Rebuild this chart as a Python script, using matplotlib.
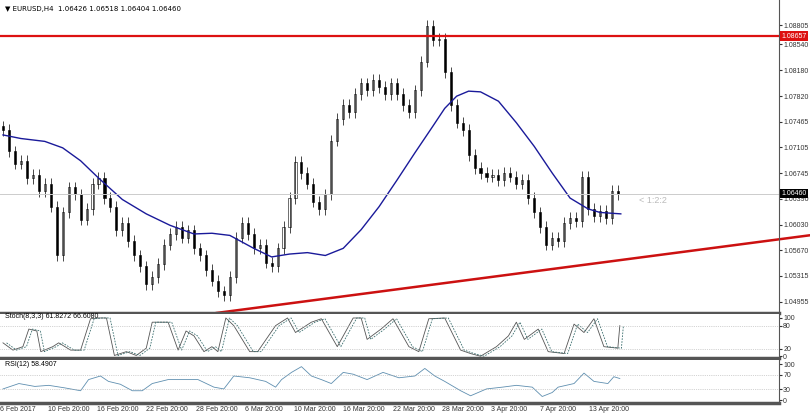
import numpy as np
import matplotlib.pyplot as plt

plt.rcParams['font.family'] = ['Liberation Sans', 'DejaVu Sans']

# closes, one candle per slot (each slot ~ 6 px in the reference)
closes = [1.0735, 1.0705, 1.0688, 1.0692, 1.0668, 1.0672, 1.0650, 1.0660, 1.0628, 1.0560,
          1.0620, 1.0655, 1.0645, 1.0610, 1.0625, 1.0660, 1.0668, 1.0640, 1.0628, 1.0595,
          1.0605, 1.0580, 1.0560, 1.0545, 1.0520, 1.0530, 1.0548, 1.0575, 1.0590, 1.0600,
          1.0585, 1.0595, 1.0570, 1.0560, 1.0540, 1.0525, 1.0510, 1.0505, 1.0530, 1.0585,
          1.0605, 1.0590, 1.0570, 1.0575, 1.0550, 1.0545, 1.0570, 1.0600, 1.0640, 1.0690,
          1.0675, 1.0660, 1.0635, 1.0625, 1.0645, 1.0720, 1.0750, 1.0770, 1.0760, 1.0785,
          1.0800, 1.0790, 1.0805, 1.0795, 1.0785, 1.0800, 1.0785, 1.0770, 1.0760, 1.0790,
          1.0830, 1.0880, 1.0860, 1.0862, 1.0815, 1.0770, 1.0745, 1.0735, 1.0700, 1.0682,
          1.0675, 1.0670, 1.0672, 1.0665, 1.0675, 1.0670, 1.0660, 1.0665, 1.0640, 1.0620,
          1.0600, 1.0575, 1.0585, 1.0580, 1.0605, 1.0612, 1.0608, 1.0670, 1.0625, 1.0615,
          1.0622, 1.0612, 1.0650, 1.0646]

# moving average (x in candle slots)
ma_x = [0, 3, 7, 10, 13, 16, 20, 24, 28, 32, 35, 38, 42, 45, 48, 51, 54, 57, 60, 63, 66,
        69, 72, 74, 76, 78, 80, 83, 86, 89, 92, 95, 98, 100, 103.5]
ma_y = [1.0728, 1.0723, 1.0719, 1.0710, 1.0692, 1.0668, 1.0638, 1.0618, 1.0602, 1.0590,
        1.0591, 1.0588, 1.0570, 1.0558, 1.0562, 1.0564, 1.0560, 1.0570, 1.0596, 1.0628,
        1.0665, 1.0703, 1.0740, 1.0765, 1.0782, 1.0789, 1.0788, 1.0775, 1.0745, 1.0712,
        1.0675, 1.0640, 1.0625, 1.0620, 1.0618]

stoch_x = [0, 5, 10, 13, 17, 19, 25, 28, 34, 39, 44, 48, 52, 56, 62, 67, 72, 75, 83, 88, 92,
           96, 101, 105, 108, 112, 116, 124, 128, 137, 143, 147, 155, 160, 168, 176, 180,
           183, 190, 196, 204, 209, 214, 222, 230, 235, 240, 248, 254, 258, 262, 269, 274,
           282, 287, 292, 297, 302, 309, 310]
stoch_v = [35, 16, 25, 71, 66, 12, 25, 35, 16, 16, 98, 107, 103, 2, 12, 2, 21, 89, 89, 16,
           66, 53, 12, 25, 12, 103, 80, 12, 12, 80, 107, 62, 89, 98, 25, 107, 116, 44, 71,
           98, 25, 12, 98, 103, 16, 7, -6, 25, 53, 89, 44, 71, 12, 7, 84, 62, 98, 25, 21,
           80]

rsi_x = [0, 8, 16, 23, 31, 39, 43, 49, 53, 59, 65, 70, 75, 83, 90, 98, 106, 111, 116, 124,
         132, 137, 140, 145, 150, 155, 160, 165, 171, 176, 183, 191, 199, 207, 212, 217,
         222, 230, 235, 243, 251, 258, 266, 271, 276, 279, 287, 292, 297, 304, 307, 310]
rsi_v = [31, 46, 38, 41, 34, 26, 57, 67, 52, 44, 26, 26, 46, 57, 57, 57, 36, 31, 67, 62,
         52, 36, 57, 77, 93, 67, 57, 46, 77, 72, 57, 77, 62, 67, 88, 67, 52, 26, 12, 31,
         36, 41, 36, 10, 21, 36, 46, 75, 52, 46, 65, 60]

price_ticks = [1.08805, 1.08540, 1.08180, 1.07820, 1.07465, 1.07105, 1.06745, 1.06390,
               1.06030, 1.05670, 1.05315, 1.04955]
time_labels = ["6 Feb 2017", "10 Feb 20:00", "16 Feb 20:00", "22 Feb 20:00", "28 Feb 20:00",
               "6 Mar 20:00", "10 Mar 20:00", "16 Mar 20:00", "22 Mar 20:00", "28 Mar 20:00",
               "3 Apr 20:00", "7 Apr 20:00", "13 Apr 20:00"]
time_px = [0, 48, 97, 146, 196, 245, 294, 343, 393, 442, 491, 540, 589]

resistance = 1.08657
last_price = 1.06460
header = "▼ EURUSD,H4  1.06426 1.06518 1.06404 1.06460"

FS = 5
W = 779 / 810
fig = plt.figure(figsize=(8.1, 4.15), dpi=100)
ax = fig.add_axes([0, 0.246, W, 0.754])
axs = fig.add_axes([0, 0.137, W, 0.106])
axr = fig.add_axes([0, 0.029, W, 0.104])

xmax = 130  # candle slots across the plot width
for a in (ax, axs, axr):
    a.set_xlim(-0.5, xmax)
    a.yaxis.tick_right()
    a.tick_params(axis='y', labelsize=FS, length=2, pad=1, colors='#333333')
    a.tick_params(axis='x', length=0, labelbottom=False)
    for s in ('top', 'left'):
        a.spines[s].set_visible(False)
    a.spines['bottom'].set_color('#555555')
    a.spines['bottom'].set_linewidth(2.5)
    a.spines['right'].set_color('#555555')
    a.spines['right'].set_linewidth(0.8)

# candles
opens = [closes[0] + 0.0005] + closes[:-1]
for i, (o, c) in enumerate(zip(opens, closes)):
    hi = max(o, c) + 0.0008
    lo = min(o, c) - 0.0008
    ax.vlines(i, lo, hi, color='black', linewidth=0.5)
    face = 'white' if c >= o else 'black'
    h = max(abs(c - o), 0.00008)
    ax.bar(i, h, bottom=min(o, c), width=0.35, color=face, edgecolor='black', linewidth=0.4)

ax.plot(ma_x, ma_y, color='#1a1a9a', linewidth=1.0)
ax.axhline(resistance, color='#dd1111', linewidth=1.6)
ax.axhline(last_price, color='#cccccc', linewidth=0.7)
ax.plot([215 / 6, 810 / 6], [1.0480, 1.0588], color='#cc1111', linewidth=1.8, clip_on=False)
ax.text(106.5, 1.0637, "< 1:2:2", color='#bbbbbb', fontsize=6.5, va='center')
ax.set_ylim(1.0480, 1.0916)
ax.set_yticks(price_ticks)
ax.set_yticklabels([f"{v:.5f}" for v in price_ticks])
ax.text(xmax + 0.4, resistance, f"{resistance:.5f}", color='white', fontsize=FS, va='center',
        bbox=dict(facecolor='#dd1111', edgecolor='none', pad=0.8))
ax.text(xmax + 0.4, last_price, f"{last_price:.5f}", color='white', fontsize=FS, va='center',
        bbox=dict(facecolor='black', edgecolor='none', pad=0.8))
ax.text(0.3, 1.0904, header, fontsize=FS, va='center', family=['DejaVu Sans'])

# stochastic
sx = np.array(stoch_x) / 3
sv = np.clip(stoch_v, 0, 100)
axs.plot(sx, sv, color='#555555', linewidth=0.6)
axs.plot(sx + 0.6, sv, color='#3a6e6e', linewidth=0.6, linestyle=(0, (2, 1.5)))
axs.set_ylim(-5, 110)
axs.set_yticks([0, 20, 80, 100])
for lv in (20, 80):
    axs.axhline(lv, color='#aaaaaa', linewidth=0.5, linestyle=':')
axs.text(0.3, 103, "Stoch(8,3,3) 61.8272 66.6080", fontsize=FS, va='center')

# rsi
axr.plot(np.array(rsi_x) / 3, rsi_v, color='#5f8fb0', linewidth=0.6)
axr.set_ylim(-8, 112)
axr.set_yticks([0, 30, 70, 100])
for lv in (30, 70):
    axr.axhline(lv, color='#aaaaaa', linewidth=0.5, linestyle=':')
axr.text(0.3, 100, "RSI(12) 58.4907", fontsize=FS, va='center')
for lab, px in zip(time_labels, time_px):
    fig.text(px / 810, 6 / 415, lab, fontsize=FS, ha='left', va='center', color='#333333')

fig.savefig("out.png", dpi=100)
